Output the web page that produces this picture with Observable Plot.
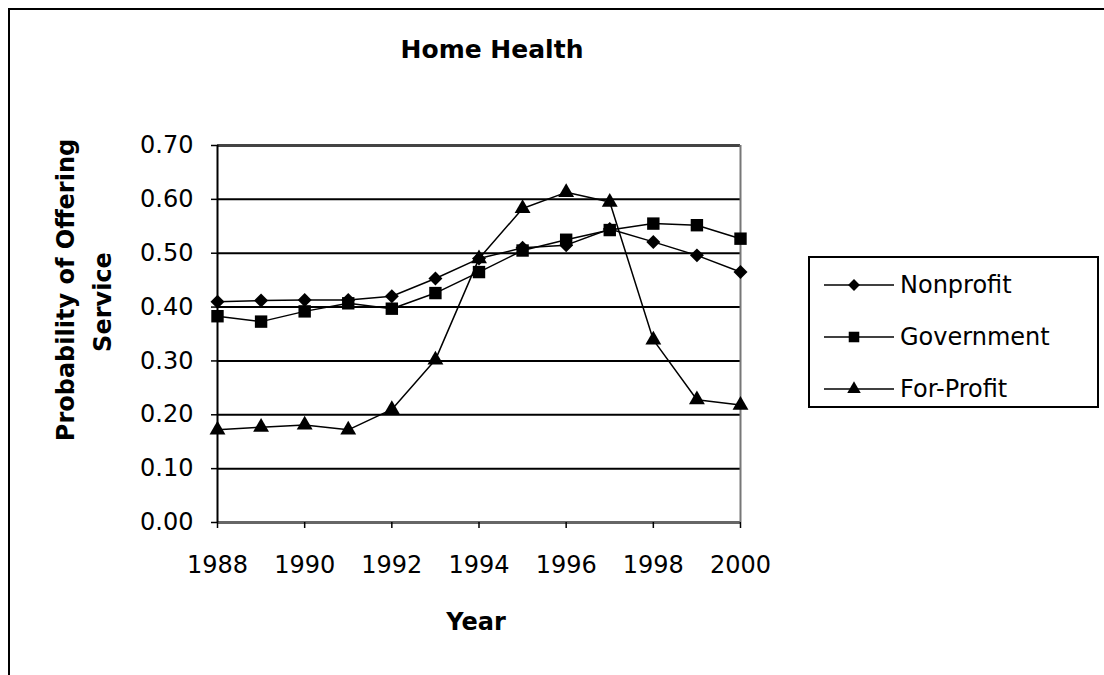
<!DOCTYPE html>
<html>
<head>
<meta charset="utf-8">
<script src="https://cdn.jsdelivr.net/npm/d3@7"></script>
<script src="https://cdn.jsdelivr.net/npm/@observablehq/plot@0.6"></script>
<style>
  html, body { margin: 0; padding: 0; background: #fff; overflow: hidden; }
  #wrap { position: relative; width: 1104px; height: 675px; overflow: hidden; font-family: "DejaVu Sans", sans-serif; color: #000; }
  #frame { position: absolute; left: 8px; top: 8px; width: 1200px; height: 800px; border: 2px solid #000; box-sizing: border-box; }
  #chart { position: absolute; left: 0; top: 0; }
  .lbl { position: absolute; font-weight: bold; font-size: 24px; line-height: 1; white-space: nowrap; transform: translate(-50%, -50%); }
  .rot { transform: translate(-50%, -50%) rotate(-90deg); }
  #legend { position: absolute; left: 808px; top: 256px; width: 291px; height: 152px; border: 2px solid #000; box-sizing: border-box; background: #fff; }
  .row { position: absolute; left: 12px; height: 30px; display: flex; align-items: center; font-size: 24px; }
  .row svg { display: block; margin-right: 6px; }
</style>
</head>
<body>
<div id="wrap">
  <div id="frame"></div>
  <div id="chart"></div>
  <div class="lbl" style="left:492px; top:49px; font-size:25px;">Home Health</div>
  <div class="lbl rot" style="left:66px; top:290px;">Probability of Offering</div>
  <div class="lbl rot" style="left:103px; top:302px;">Service</div>
  <div class="lbl" style="left:476px; top:622px;">Year</div>
  <div id="legend"></div>
</div>
<script>
const years = [1988, 1989, 1990, 1991, 1992, 1993, 1994, 1995, 1996, 1997, 1998, 1999, 2000];
const nonprofit  = [0.410, 0.412, 0.413, 0.413, 0.420, 0.453, 0.490, 0.510, 0.515, 0.545, 0.521, 0.496, 0.465];
const government = [0.383, 0.373, 0.392, 0.407, 0.397, 0.426, 0.465, 0.505, 0.525, 0.543, 0.555, 0.552, 0.527];
const forProfit  = [0.172, 0.177, 0.181, 0.172, 0.210, 0.302, 0.490, 0.583, 0.613, 0.595, 0.339, 0.228, 0.218];
const seriesNames = ["Nonprofit", "Government", "For-Profit"];
const yTicks = [0.0, 0.1, 0.2, 0.3, 0.4, 0.5, 0.6, 0.7];
const xTicks = [1988, 1990, 1992, 1994, 1996, 1998, 2000];

const seriesValues = [nonprofit, government, forProfit];
const symbols = { "Nonprofit": "diamond2", "Government": "square", "For-Profit": "triangle" };
const sizes = { "Nonprofit": 6.3, "Government": 7, "For-Profit": 5.9 };

const data = [];
seriesNames.forEach((s, i) => years.forEach((y, j) => data.push({ series: s, year: y, value: seriesValues[i][j] })));

const gridVals = yTicks.filter(v => v > 0 && v < 0.7);

const chart = Plot.plot({
  width: 1104,
  height: 675,
  marginLeft: 217,
  marginRight: 364,
  marginTop: 145,
  marginBottom: 153,
  style: { fontFamily: "DejaVu Sans", fontSize: "24px", background: "transparent", color: "#000" },
  x: { domain: [1988, 2000] },
  y: { domain: [0, 0.7] },
  marks: [
    Plot.ruleY(gridVals, { stroke: "#000", strokeWidth: 2 }),
    Plot.ruleY([0.7], { stroke: "#444", strokeWidth: 3 }),
    Plot.ruleY([0], { stroke: "#666", strokeWidth: 3 }),
    Plot.ruleX([2000], { stroke: "#777", strokeWidth: 2 }),
    Plot.ruleX([1988], { stroke: "#000", strokeWidth: 2 }),
    Plot.axisY({ ticks: yTicks, tickFormat: d3.format(".2f"), tickSize: 6, tickPadding: 18, label: null, fontSize: 24, strokeWidth: 1.5 }),
    Plot.axisX({ ticks: xTicks, tickFormat: d => String(d), tickSize: 6, tickPadding: 27, label: null, fontSize: 24, strokeWidth: 1.5 }),
    Plot.line(data, { x: "year", y: "value", z: "series", stroke: "#000", strokeWidth: 1.5 }),
    ...seriesNames.map(s => Plot.dot(data.filter(d => d.series === s), {
      x: "year", y: "value", symbol: () => symbols[s], r: sizes[s], fill: "#000", stroke: "none"
    }))
  ],
  symbol: { type: "identity" }
});
document.getElementById("chart").appendChild(chart);

// legend
const legend = document.getElementById("legend");
const d3sym = { "Nonprofit": d3.symbolDiamond2, "Government": d3.symbolSquare, "For-Profit": d3.symbolTriangle };
seriesNames.forEach((s, i) => {
  const row = document.createElement("div");
  row.className = "row";
  row.style.top = (12 + i * 52) + "px";
  const r = sizes[s] * 0.85;
  const path = d3.symbol(d3sym[s], Math.PI * r * r)();
  row.innerHTML = `<svg width="72" height="30"><line x1="2" x2="72" y1="15" y2="15" stroke="#000" stroke-width="1.5"/><path transform="translate(32,15)" d="${path}" fill="#000"/></svg><span>${s}</span>`;
  legend.appendChild(row);
});
</script>
</body>
</html>
